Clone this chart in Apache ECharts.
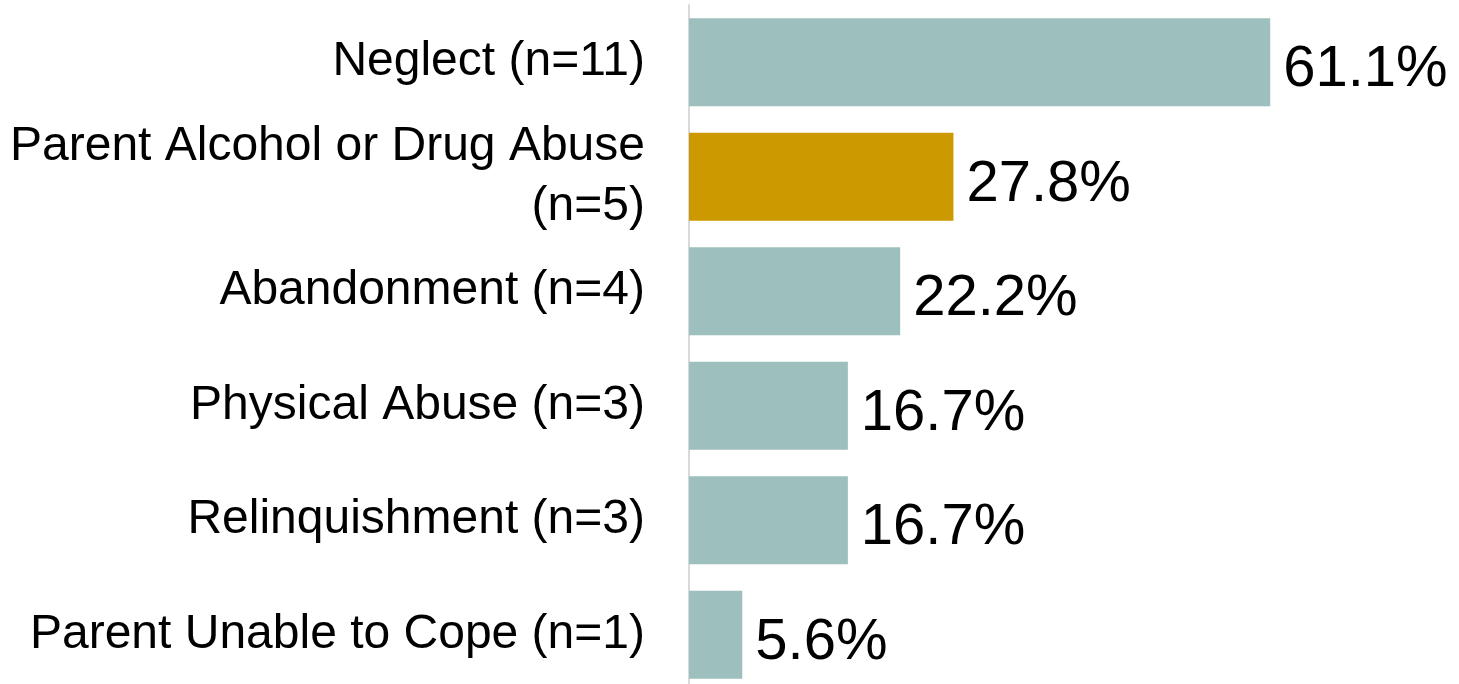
<!DOCTYPE html>
<html>
<head>
<meta charset="utf-8">
<script src="https://cdn.jsdelivr.net/npm/echarts@6/dist/echarts.min.js"></script>
<style>
  html, body { margin: 0; padding: 0; background: #fff; }
  #chart-container { width: 1459px; height: 684px; }
</style>
</head>
<body>
<div id="chart-container"></div>
<script>
var categories = [
    'Neglect (n=11)',
    'Parent Alcohol or Drug Abuse\n(n=5)',
    'Abandonment (n=4)',
    'Physical Abuse (n=3)',
    'Relinquishment (n=3)',
    'Parent Unable to Cope (n=1)'
];
var percents = [61.1, 27.8, 22.2, 16.7, 16.7, 5.6];
var highlighted = 'Parent Alcohol or Drug Abuse\n(n=5)';

var dom = document.getElementById('chart-container');
var myChart = echarts.init(dom, null, { renderer: 'canvas' });

var option = {
    animation: false,
    textStyle: { fontFamily: 'Liberation Sans, Arial, sans-serif' },
    grid: {
        left: 689, right: 9, top: 5, bottom: -8,
        containLabel: false,
        outerBoundsMode: 'none'
    },
    xAxis: {
        type: 'value',
        min: 0,
        max: 80,
        show: false
    },
    yAxis: {
        type: 'category',
        inverse: true,
        data: categories,
        axisLine: { show: true, lineStyle: { color: '#d9d9d9', width: 2 } },
        axisTick: { show: false },
        axisLabel: {
            color: '#000',
            fontSize: 48,
            lineHeight: 60,
            margin: 44,
            align: 'right'
        }
    },
    series: [{
        type: 'bar',
        data: percents,
        barWidth: '77%',
        itemStyle: {
            color: function (p) {
                return categories[p.dataIndex] === highlighted ? '#cc9900' : '#9dbfbd';
            }
        },
        label: {
            show: true,
            position: 'right',
            distance: 13,
            offset: [0, 8],
            color: '#000',
            fontSize: 58,
            formatter: function (p) { return p.value.toFixed(1) + '%'; }
        }
    }]
};

myChart.setOption(option);
window.addEventListener('resize', myChart.resize);
</script>
</body>
</html>
